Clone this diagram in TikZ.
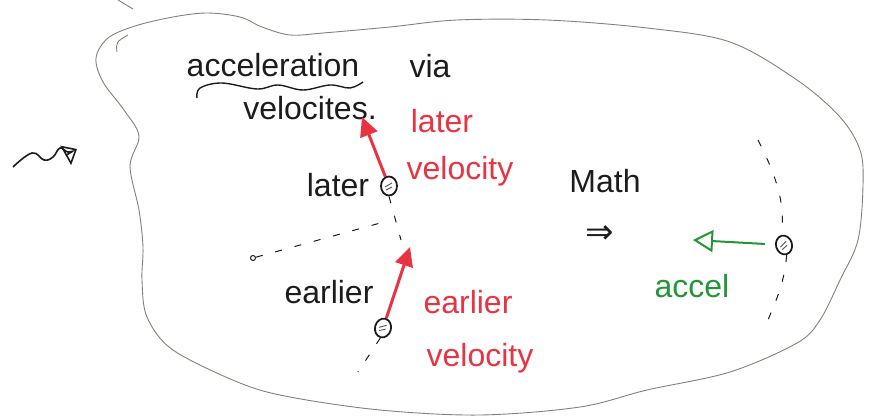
\documentclass[tikz,border=0pt]{standalone}
\usepackage{fontspec}
\setmainfont{Liberation Sans}
\newfontfamily\symbolfont{DejaVu Sans}
\usepackage{tikz}
\usetikzlibrary{arrows.meta, shapes.geometric}
\definecolor{penred}{RGB}{232,52,66}
\definecolor{pengreen}{RGB}{34,150,56}
\definecolor{pengray}{RGB}{128,132,118}
\definecolor{inkblack}{RGB}{28,28,28}

\begin{document}
\begin{tikzpicture}[x=1pt, y=-1pt, >=Stealth,
  hand/.style={font=\fontsize{32}{36}\selectfont, inner sep=0pt, anchor=base},
  particle/.style={draw=inkblack, line width=1.8pt, ellipse, minimum width=16pt,
    minimum height=19pt, inner sep=0pt,
    path picture={\draw[inkblack!75, line width=0.9pt]
      ([shift={(-4pt,-1pt)}]path picture bounding box.center) -- ++(7pt,4pt)
      ([shift={(-3pt,-4pt)}]path picture bounding box.center) -- ++(6pt,3pt);}},
  vel/.style={penred, line width=3pt, -{Triangle[length=19pt, width=18pt]}},
  trace/.style={inkblack, line width=1pt, dash pattern=on 7pt off 13pt}]

\useasboundingbox (0,0) rectangle (874,419);

%% outline of the region
\draw[pengray, line width=0.9pt] plot[smooth cycle, tension=0.55] coordinates {
  (139,136) (124,110) (103,82) (96,58) (108,38) (135,26) (173,17) (207,13)
  (240,17) (262,27) (290,35) (323,33) (390,27) (457,20) (547,20) (647,28)
  (730,42) (797,80) (840,117) (860,150) (863,185) (858,240) (840,280)
  (820,320) (797,343) (730,372) (647,390) (580,407) (480,415) (380,410)
  (290,397) (240,383) (173,350) (147,317) (142,280) (143,247) (139,210) (130,166)};
\draw[pengray, line width=0.9pt] (117,52) .. controls (116,42) .. (128,35);
\draw[pengray, line width=0.9pt] (118,0) -- (133,9);

%% squiggle arrow on the left
\draw[inkblack, line width=1.6pt, -{Triangle[open, length=13pt, width=22pt, line width=1.6pt]}]
  plot[smooth, tension=0.7] coordinates {(13,167) (32,153) (44,160) (53,157) (60,148) (68,152) (77,149)};

%% title
\node[hand, inkblack] (accel) at (273,77) {acceleration};
\node[hand, inkblack] (via)   at (430,78) {via};
\node[hand, inkblack] (velos) at (310,120) {velocites.};
\draw[inkblack, line width=1.4pt] plot[smooth, tension=0.6] coordinates {
  (197,98) (200,88) (222,83) (257,89) (278,85) (303,90) (330,85) (350,88) (363,82)};

%% particle positions
\node[particle] (plater)   at (389,186) {};
\node[particle, rotate=-15] (pearlier) at (383,328) {};
\node[particle, rotate=15]  (pcurve)   at (784,245) {};
\node[draw=inkblack, circle, line width=1pt, inner sep=0pt, minimum size=5pt] (pstart) at (253,258) {};

\coordinate (latertip) at (362,117);
\coordinate (earliertip) at (410,247);
\coordinate (meetv) at (401,240);
\coordinate (meetl) at (384,222);
\coordinate (tail) at (358,372);
\coordinate (trtop) at (758,140);
\coordinate (trbot) at (768,320);
\coordinate (accltip) at (693,240);

%% traces
\draw[trace] (plater.south) -- (meetv);
\draw[trace] (pstart) -- (meetl);
\draw[trace] (pearlier.south) -- (tail);
\draw[trace] (trtop) .. controls (776,175) and (786,205) .. (pcurve.north);
\draw[trace] (pcurve.south) .. controls (784,285) and (776,300) .. (trbot);

%% velocities
\draw[vel] (plater) -- (latertip);
\draw[vel] (pearlier) -- (earliertip);
\draw[pengreen, line width=2pt, shorten <=10pt,
  -{Triangle[open, length=20pt, width=22pt, line width=2pt]}] (pcurve) -- (accltip);

%% labels
\node[hand, inkblack] (later)   at (338,197) {later};
\node[hand, inkblack] (earlier) at (329,303) {earlier};
\node[hand, penred] (laterv1)   at (442,133) {later};
\node[hand, penred] (laterv2)   at (460,180) {velocity};
\node[hand, penred] (earlyv1)   at (468,313) {earlier};
\node[hand, penred] (earlyv2)   at (480,366) {velocity};
\node[hand, inkblack] (math)    at (605,193) {Math};
\node[inkblack, inner sep=0pt, font=\symbolfont\fontsize{34}{38}\selectfont] (implies) at (600,235) {⇒};
\node[hand, pengreen] (acl)     at (692,297) {accel};
\end{tikzpicture}
\end{document}
